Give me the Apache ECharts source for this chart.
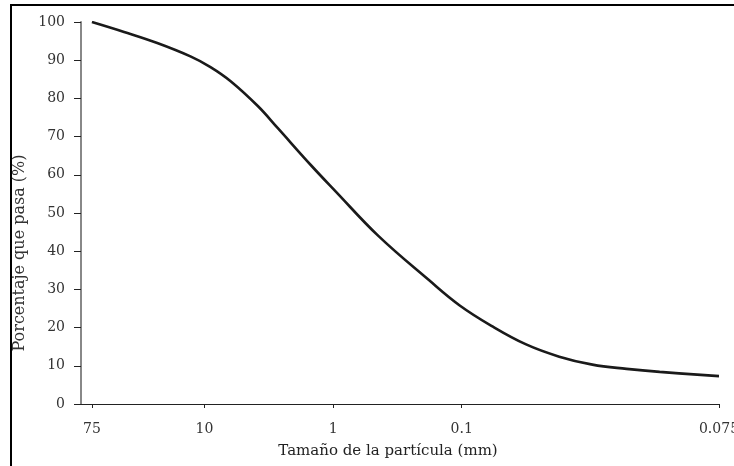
<!DOCTYPE html>
<html>
<head>
<meta charset="utf-8">
<script src="https://cdn.jsdelivr.net/npm/echarts@6/dist/echarts.min.js"></script>
<style>html,body{margin:0;padding:0;background:#fff}#c{width:734px;height:466px}</style>
</head>
<body>
<div id="c"></div>
<script>
// Particle size (mm) and percent passing
const sizes = [75, 42.2, 23.3, 12.86, 8.98, 6.26, 3.85, 2.69, 1.486, 0.965, 0.445, 0.181, 0.1037, 0.0583, 0.0316, 0.01746, 0.00964, 0.00523, 0.00289, 0.001];
const passing = [100, 97.4, 94.5, 91.0, 88.2, 84.5, 78.0, 72.2, 62.5, 55.8, 44.0, 32.5, 25.8, 20.4, 15.6, 12.4, 10.3, 9.2, 8.4, 7.3];
// Tick sizes and the labels printed at them
const tickSizes = [75, 10, 1, 0.1, 0.001];
const tickLabels = ['75', '10', '1', '0.1', '0.075'];
const yTicks = [0, 10, 20, 30, 40, 50, 60, 70, 80, 90, 100];

const toU = d => -Math.log10(d);
const data = sizes.map((d, i) => [toU(d), passing[i]]);
const tickU = tickSizes.map(toU);
const labelFor = v => {
  for (let i = 0; i < tickU.length; i++) if (Math.abs(tickU[i] - v) < 1e-6) return tickLabels[i];
  return '';
};
const font = '"DejaVu Serif", "Liberation Serif", serif';

const chart = echarts.init(document.getElementById('c'));
chart.setOption({
  animation: false,
  backgroundColor: '#fff',
  grid: { left: 81, right: 15, top: 22, bottom: 62, containLabel: false, outerBoundsMode: 'none' },
  graphic: [{
    type: 'rect', shape: { x: 11, y: 5, width: 800, height: 600 },
    style: { fill: 'none', stroke: '#000', lineWidth: 2 }, z: 100, silent: true
  }],
  xAxis: {
    type: 'value', min: -1.96, max: 3.0,
    name: 'Tamaño de la partícula (mm)', nameLocation: 'middle', nameGap: 40,
    nameTextStyle: { fontFamily: font, fontSize: 15, color: '#222', padding: [0, 24, 0, 0] },
    axisLine: { show: true, onZero: false, lineStyle: { color: '#222', width: 1 } },
    axisTick: { show: true, customValues: tickU, length: 4, lineStyle: { color: '#222' } },
    axisLabel: { customValues: tickU, formatter: labelFor, fontFamily: font, fontSize: 14, color: '#333', margin: 18 },
    splitLine: { show: false }
  },
  yAxis: {
    type: 'value', min: 0, max: 100, interval: 10,
    name: 'Porcentaje que pasa (%)', nameLocation: 'middle', nameGap: 48,
    nameTextStyle: { fontFamily: font, fontSize: 16, color: '#333', padding: [0, 80, 0, 0] },
    axisLine: { show: true, onZero: false, lineStyle: { color: '#888', width: 2 } },
    axisTick: { show: true, length: 7, lineStyle: { color: '#222' } },
    axisLabel: { fontFamily: font, fontSize: 14, color: '#333', margin: 16,
      formatter: v => (yTicks.indexOf(v) >= 0 ? String(v) : '') },
    splitLine: { show: false }
  },
  series: [{
    type: 'line', data: data, smooth: 0.4, symbol: 'none',
    lineStyle: { color: '#1a1a1a', width: 2.6 }
  }]
});
</script>
</body>
</html>
